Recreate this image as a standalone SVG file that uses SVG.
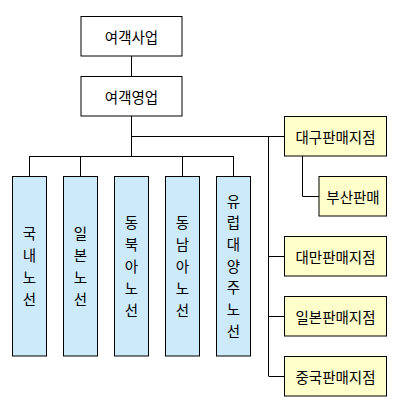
<svg xmlns="http://www.w3.org/2000/svg" width="400" height="410" viewBox="0 0 400 410">
<style>
.box{stroke:#000;stroke-width:1}
.w{fill:#fff}
.b{fill:#cceaf9}
.y{fill:#ffffcc}
text{font-family:"Noto Sans CJK KR","Noto Sans",sans-serif;font-size:14.5px;fill:#000;text-anchor:middle;dominant-baseline:central}
.conn{stroke:#000;stroke-width:1;fill:none}
</style>
<rect width="400" height="410" fill="#fff"/>
<g id="connectors">
<path class="conn" d="M131.5,56V76M131.5,116V156M131.5,136.5H284M29.5,156.5H233.5M29.5,156V176M80.5,156V176M182.5,156V176M233.5,156V176M268.5,136V376M268.5,256.5H284M268.5,316.5H284M268.5,376.5H284M302.5,156V196.5H319"/>
</g>
<g id="n1"><rect class="box w" x="81" y="16.5" width="101" height="39.5"/><text x="131.5" y="36.5">여객사업</text></g>
<g id="n2"><rect class="box w" x="81" y="76.5" width="101" height="39.5"/><text x="131.5" y="96.5">여객영업</text></g>
<g id="n3"><rect class="box b" x="12.5" y="176.5" width="34" height="179.5"/><text x="29.5" y="232">국</text><text x="29.5" y="254">내</text><text x="29.5" y="276">노</text><text x="29.5" y="298">선</text></g>
<g id="n4"><rect class="box b" x="63.5" y="176.5" width="34" height="179.5"/><text x="80.5" y="232">일</text><text x="80.5" y="254">본</text><text x="80.5" y="276">노</text><text x="80.5" y="298">선</text></g>
<g id="n5"><rect class="box b" x="114.5" y="176.5" width="34" height="179.5"/><text x="131.5" y="221">동</text><text x="131.5" y="243">북</text><text x="131.5" y="265">아</text><text x="131.5" y="287">노</text><text x="131.5" y="309">선</text></g>
<g id="n6"><rect class="box b" x="165.5" y="176.5" width="34" height="179.5"/><text x="182.5" y="221">동</text><text x="182.5" y="243">남</text><text x="182.5" y="265">아</text><text x="182.5" y="287">노</text><text x="182.5" y="309">선</text></g>
<g id="n7"><rect class="box b" x="216.5" y="176.5" width="34" height="179.5"/><text x="233.5" y="200">유</text><text x="233.5" y="221.7">럽</text><text x="233.5" y="243.3">대</text><text x="233.5" y="265">양</text><text x="233.5" y="286.7">주</text><text x="233.5" y="308.3">노</text><text x="233.5" y="330">선</text></g>
<g id="n8"><rect class="box y" x="284.5" y="116.5" width="102" height="39.5"/><text x="335.5" y="136.5">대구판매지점</text></g>
<g id="n9"><rect class="box y" x="319" y="176.5" width="67.5" height="39.5"/><text x="353" y="196.5">부산판매</text></g>
<g id="n10"><rect class="box y" x="284.5" y="236.5" width="102" height="39.5"/><text x="335.5" y="256.5">대만판매지점</text></g>
<g id="n11"><rect class="box y" x="284.5" y="296.5" width="102" height="39.5"/><text x="335.5" y="316.5">일본판매지점</text></g>
<g id="n12"><rect class="box y" x="284.5" y="356.5" width="102" height="39.5"/><text x="335.5" y="376.5">중국판매지점</text></g>
</svg>
